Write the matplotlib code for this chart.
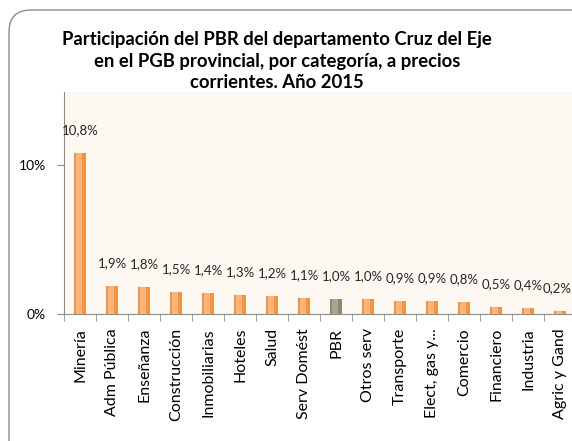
import matplotlib.pyplot as plt
import numpy as np
from matplotlib.patches import FancyBboxPatch

categorias = ['Minería', 'Adm Pública', 'Enseñanza', 'Construcción', 'Inmobiliarias',
              'Hoteles', 'Salud', 'Serv Domést', 'PBR', 'Otros serv', 'Transporte',
              'Elect, gas y...', 'Comercio', 'Financiero', 'Industria', 'Agric y Gand']
valores = [10.8, 1.9, 1.8, 1.5, 1.4, 1.3, 1.2, 1.1, 1.0, 1.0, 0.9, 0.9, 0.8, 0.5, 0.4, 0.2]
etiquetas = ['10,8%', '1,9%', '1,8%', '1,5%', '1,4%', '1,3%', '1,2%', '1,1%', '1,0%',
             '1,0%', '0,9%', '0,9%', '0,8%', '0,5%', '0,4%', '0,2%']

plt.rcParams['font.family'] = ['Lato', 'DejaVu Sans']

fig = plt.figure(figsize=(5.72, 4.41), dpi=100)
W, H = 572, 441

# marco redondeado, dibujado en pixeles sobre un eje de fondo
bg = fig.add_axes([0, 0, 1, 1])
bg.set_xlim(0, W)
bg.set_ylim(H, 0)
bg.axis('off')
bg.add_patch(FancyBboxPatch((9, 10), 600, 460,
                            boxstyle='round,pad=0,rounding_size=22',
                            fill=False, edgecolor='#8c8c8c', linewidth=1.0))

ax = fig.add_axes([64 / W, 1 - 314 / H, 512 / W, 222 / H])
ax.set_facecolor('#fdf8f1')

x = np.arange(len(categorias))
colores = ['#8c8a70' if c == 'PBR' else '#f3923f' for c in categorias]
claros = ['#a8a68c' if c == 'PBR' else '#fbb47c' for c in categorias]
ax.bar(x, valores, width=0.38, color=colores, zorder=2)
ax.bar(x - 0.03, valores, width=0.16, color=claros, zorder=3)

for i, (xi, v, t) in enumerate(zip(x, valores, etiquetas)):
    dx = -2 if i == len(x) - 1 else 0  # la ultima etiqueta queda al borde
    ax.annotate(t, (xi, v), xytext=(dx, 12), textcoords='offset points',
                ha='center', va='bottom', fontsize=9.5, color='#262626')

ax.set_xlim(-0.5, len(categorias) - 0.5)
ax.set_ylim(0, 14.9)
ax.set_yticks([0, 10])
ax.set_yticklabels(['0%', '10%'], fontsize=10)
ax.set_xticks(x)
ax.set_xticklabels(categorias, rotation=90, fontsize=11.5)
ax.set_xticks(np.arange(len(categorias) + 1) - 0.5, minor=True)
ax.tick_params(axis='x', which='major', length=0, pad=10)
ax.tick_params(axis='x', which='minor', length=5, color='#8c8c8c')
ax.tick_params(axis='y', length=5, color='#8c8c8c', pad=8)

for s in ['top', 'right']:
    ax.spines[s].set_visible(False)
ax.spines['left'].set_color('#8c8c8c')
ax.spines['bottom'].set_color('#8c8c8c')

fig.text(277 / W, 1 - 61 / H,
         'Participación del PBR del departamento Cruz del Eje\n'
         'en el PGB provincial, por categoría, a precios\n'
         'corrientes. Año 2015',
         ha='center', va='center', fontsize=13.3, fontweight='bold',
         linespacing=1.35)

fig.savefig('out.png', dpi=100)
